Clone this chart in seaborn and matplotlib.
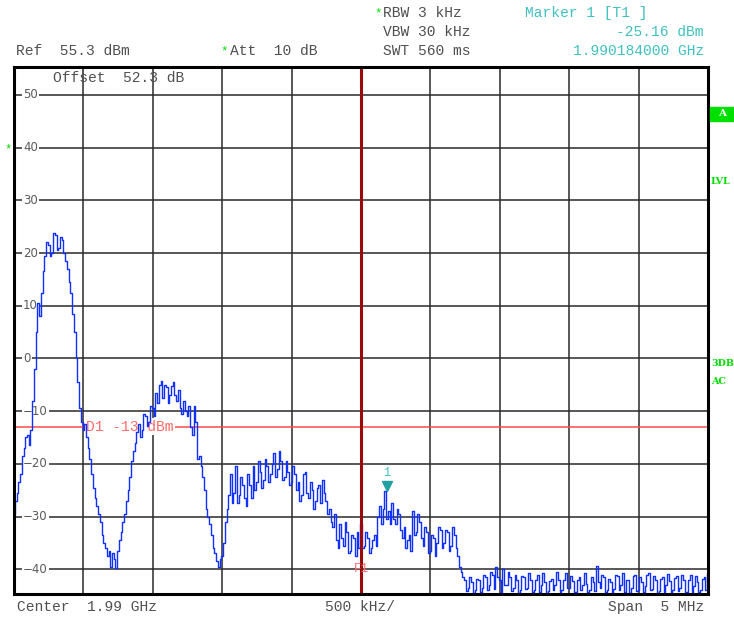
import numpy as np
import pandas as pd
import matplotlib
matplotlib.use("Agg")
import matplotlib.pyplot as plt
import matplotlib.transforms as mtransforms
import seaborn as sns

# ---- sweep settings -------------------------------------------------------
center_ghz = 1.99
span_ghz = 0.005
ref_level = 55.3          # dBm, top of the display
db_per_div = 10.0
n_divs = 10

# ---- measured trace (dBm), 401 sweep points across the span ---------------
levels_dbm = [
    -29.5, -27.0, -25.5, -23.5, -22.0, -18.5, -17.0, -15.0, -14.5, -16.5,
    -13.5, -8.0, -2.0, 5.0, 10.5, 8.0, 12.5, 16.5, 19.5, 22.0,
    21.5, 19.5, 20.0, 23.8, 23.5, 20.5, 21.0, 23.0, 22.5, 20.0,
    18.5, 17.0, 14.5, 12.5, 8.5, 5.0, 0.0, -4.5, -9.5, -12.0,
    -13.5, -12.5, -15.0, -17.0, -19.0, -22.0, -24.5, -26.5, -28.0, -29.5,
    -31.0, -33.5, -35.0, -36.0, -37.5, -36.5, -39.5, -37.0, -38.0, -39.8,
    -36.5, -34.5, -33.0, -31.0, -29.5, -27.0, -25.0, -22.5, -19.5, -17.5,
    -16.0, -14.0, -12.5, -15.0, -13.5, -10.5, -11.0, -12.8, -12.0, -9.0,
    -9.5, -11.0, -6.5, -8.5, -5.0, -4.2, -7.5, -5.0, -5.5, -8.5,
    -7.0, -5.2, -4.5, -7.0, -8.0, -6.0, -9.5, -10.5, -8.0, -10.0,
    -11.0, -9.0, -13.0, -14.5, -9.0, -12.0, -19.0, -18.5, -20.5, -22.5,
    -25.0, -28.5, -30.0, -31.5, -33.5, -36.0, -37.0, -38.5, -39.5, -38.0,
    -37.5, -35.0, -31.0, -28.5, -26.0, -22.0, -27.5, -25.5, -20.5, -27.5,
    -26.0, -22.5, -24.0, -26.5, -28.0, -22.0, -24.0, -26.5, -20.5, -25.0,
    -23.5, -19.5, -21.5, -24.5, -23.0, -19.0, -20.5, -23.5, -22.0, -20.0,
    -18.0, -22.5, -21.0, -17.5, -19.5, -23.0, -22.5, -19.5, -21.5, -24.0,
    -23.5, -20.5, -22.0, -25.0, -23.5, -27.0, -26.0, -22.0, -21.5, -25.5,
    -26.5, -23.5, -25.0, -28.5, -27.0, -24.5, -24.0, -27.5, -23.0, -25.5,
    -27.0, -29.5, -28.5, -31.0, -32.0, -29.5, -34.5, -36.0, -31.5, -34.0,
    -35.5, -31.0, -33.0, -37.0, -36.5, -33.5, -34.0, -37.5, -33.0, -36.0,
    -31.5, -36.0, -35.5, -33.0, -34.0, -37.0, -36.0, -34.5, -33.5, -35.5,
    -30.0, -28.0, -31.5, -28.5, -25.16, -30.5, -29.0, -31.5, -27.5, -30.5,
    -31.5, -28.5, -29.5, -32.5, -34.0, -32.0, -36.0, -34.5, -33.5, -36.5,
    -29.0, -33.5, -33.0, -29.5, -31.0, -34.0, -35.5, -32.0, -33.0, -37.0,
    -36.5, -33.5, -34.0, -37.5, -35.0, -32.0, -32.5, -36.0, -35.0, -32.5,
    -33.0, -36.5, -35.5, -32.0, -33.5, -36.0, -37.5, -39.5, -40.5, -41.5,
    -42.0, -44.2, -43.5, -41.5, -42.5, -44.5, -44.0, -41.8, -42.0, -44.3,
    -43.5, -41.0, -41.5, -44.0, -43.0, -40.5, -41.0, -43.8, -39.5, -41.5,
    -42.0, -44.5, -40.0, -43.0, -43.0, -40.5, -41.5, -44.2, -43.5, -41.0,
    -42.0, -44.5, -44.0, -41.2, -41.5, -43.8, -43.5, -40.8, -42.0, -44.3,
    -44.0, -42.0, -41.0, -44.4, -43.0, -40.8, -42.5, -44.5, -44.2, -42.2,
    -41.8, -44.0, -43.0, -40.6, -42.0, -44.3, -44.0, -42.0, -40.8, -43.5,
    -43.5, -41.2, -42.2, -44.5, -44.3, -42.0, -41.5, -44.0, -43.0, -40.7,
    -42.8, -44.4, -44.0, -41.5, -42.5, -44.2, -39.3, -42.5, -43.5, -41.0,
    -41.5, -44.4, -44.0, -41.8, -42.5, -44.5, -43.8, -41.0, -41.2, -44.0,
    -43.0, -40.8, -44.3, -42.0, -42.0, -44.5, -43.5, -41.3, -41.0, -44.2,
    -44.0, -41.5, -42.5, -44.4, -43.2, -41.0, -40.8, -44.0, -43.8, -41.2,
    -42.0, -44.5, -44.2, -41.8, -41.5, -44.3, -43.0, -40.9, -42.3, -44.4,
    -44.0, -41.6, -41.2, -44.2, -43.5, -41.0, -42.0, -44.5, -44.4, -42.0,
    -41.0, -44.3, -43.2, -41.2, -42.5, -44.4, -44.0, -41.8, -41.5, -43.9,
    -40.8,
]

# display line, frequency line and marker
d1_level = -13.0
f1_ghz = 1.99
marker_ghz = 1.990184
marker_dbm = -25.16

y_tick_values = [50, 40, 30, 20, 10, 0, -10, -20, -30, -40]
y_tick_labels = ["50", "40", "30", "20", "10", "0", "\u221210", "\u221220", "\u221230", "\u221240"]

# ---- derived sweep axis ---------------------------------------------------
f_start = center_ghz - span_ghz / 2
f_stop = center_ghz + span_ghz / 2
freqs = np.linspace(f_start, f_stop, len(levels_dbm))
trace = pd.DataFrame({"freq_ghz": freqs, "level_dbm": levels_dbm})

# ---- styling --------------------------------------------------------------
sns.set_style("white")
MONO = ["Liberation Mono", "DejaVu Sans Mono"]
plt.rcParams["font.family"] = MONO

W, H = 734, 618
fig = plt.figure(figsize=(W / 100, H / 100), dpi=100)
fig.patch.set_facecolor("white")

def fx(px):
    return px / W

def fy(py):
    return 1 - py / H

ax_left, ax_right, ax_top, ax_bottom = 14, 708, 67, 594
ax = fig.add_axes([fx(ax_left), fy(ax_bottom),
                   (ax_right - ax_left) / W, (ax_bottom - ax_top) / H])
ax.set_facecolor("white")

ax.set_xlim(f_start, f_stop)
ax.set_ylim(ref_level - n_divs * db_per_div, ref_level)
ax.set_xticks(np.linspace(f_start, f_stop, n_divs + 1))
ax.set_yticks(y_tick_values)
ax.tick_params(length=0, labelbottom=False, labelleft=False)
ax.grid(True, color="#2a2a2a", lw=1.1, zorder=0)
ax.set_axisbelow(True)
for s in ax.spines.values():
    s.set_color("black")
    s.set_linewidth(2.2)
    s.set_zorder(6)

# level labels sitting on the graticule
for v, lab in zip(y_tick_values, y_tick_labels):
    ax.text(9 / (ax_right - ax_left), v, lab,
            transform=ax.get_yaxis_transform(), ha="left", va="center",
            fontsize=8.5, color="#5a5a5a", family=["DejaVu Sans"],
            bbox=dict(boxstyle="square,pad=0.12", fc="white", ec="none"),
            zorder=2)

# display line D1
ax.axhline(d1_level, color="#ff4a4a", lw=1.1, zorder=2)
ax.text(72 / (ax_right - ax_left), d1_level, "D1 -13 dBm",
        transform=ax.get_yaxis_transform(), ha="left", va="center",
        fontsize=10.5, color="#ff6a6a",
        bbox=dict(boxstyle="square,pad=0.1", fc="white", ec="none"), zorder=2.5)

# frequency line F1
ax.axvline(f1_ghz, color="#9a0a0a", lw=2.2, zorder=4)
ax.text(f1_ghz, -40, "F1", ha="center", va="center", fontsize=9,
        color="#ff7070", zorder=4.5)

# measured trace (sample-and-hold display of the sweep points)
sns.lineplot(data=trace, x="freq_ghz", y="level_dbm", ax=ax, color="#1030ff",
             lw=1.0, drawstyle="steps-mid", estimator=None, sort=False,
             legend=False, zorder=3)
ax.set_xlabel("")
ax.set_ylabel("")

# marker 1
tri_tr = mtransforms.offset_copy(ax.transData, fig=fig, y=5, units="dots")
ax.plot([marker_ghz], [marker_dbm], marker="v", ms=7, color="#20a0a0",
        transform=tri_tr, zorder=5, ls="none")
lab_tr = mtransforms.offset_copy(ax.transData, fig=fig, y=18, units="dots")
ax.text(marker_ghz, marker_dbm, "1", transform=lab_tr, ha="center",
        va="center", fontsize=8.5, color="#40c0c0", zorder=5)

# ---- header / footer annotation -------------------------------------------
GRAY = "#505050"
TEAL = "#40c0c0"
GREEN = "#00dd00"
FS = 10.5

def put(px, py, s, color=GRAY, ha="left", fs=FS, **kw):
    fig.text(fx(px), fy(py), s, color=color, ha=ha, va="center",
             fontsize=fs, **kw)

put(374, 13, "*", color=GREEN, fs=9)
put(383, 13, "RBW 3 kHz")
put(383, 32, "VBW 30 kHz")
put(383, 51, "SWT 560 ms")
put(525, 13, "Marker 1 [T1 ]", color=TEAL)
put(704, 32, "-25.16 dBm", color=TEAL, ha="right")
put(704, 51, "1.990184000 GHz", color=TEAL, ha="right")
put(16, 51, "Ref  55.3 dBm")
put(220, 51, "*", color=GREEN, fs=9)
put(230, 51, "Att  10 dB")
put(53, 78, "Offset  52.3 dB")

put(17, 607, "Center  1.99 GHz")
put(360, 607, "500 kHz/", ha="center")
put(704, 607, "Span  5 MHz", ha="right")

# left-edge and right-edge status indicators
put(4, 149, "*", color=GREEN, fs=9)
fig.patches.append(plt.Rectangle((fx(710), fy(121)), 30 / W, 14 / H,
                                 transform=fig.transFigure, color="#00e000",
                                 zorder=1))
put(718, 114, "A", color="white", fs=7.5, weight="bold", family=["DejaVu Serif"])
put(711, 182, "LVL", color=GREEN, fs=6.8, weight="bold", family=["DejaVu Serif"])
put(711, 364, "3DB", color=GREEN, fs=6.8, weight="bold", family=["DejaVu Serif"])
put(711, 381, "AC", color=GREEN, fs=6.8, weight="bold", family=["DejaVu Serif"])

fig.savefig("out.png", dpi=100, facecolor="white")
